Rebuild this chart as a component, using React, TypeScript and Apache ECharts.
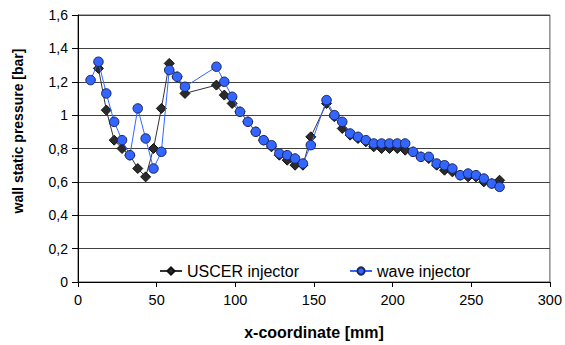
import React, { useEffect, useRef } from "react";
import * as echarts from "echarts";

const uscerX = [13, 18, 23, 28, 33, 38, 43, 48, 53, 58, 63, 68, 88, 93, 98, 103, 108, 113, 118, 123, 128, 133, 138, 143, 148, 158, 163, 168, 173, 178, 183, 188, 193, 198, 203, 208, 213, 218, 223, 228, 233, 238, 243, 248, 253, 258, 263, 268];
const uscerP = [1.28, 1.03, 0.85, 0.8, 0.76, 0.68, 0.63, 0.8, 1.04, 1.31, 1.23, 1.13, 1.18, 1.12, 1.07, 1.02, 0.96, 0.9, 0.85, 0.81, 0.76, 0.73, 0.7, 0.7, 0.87, 1.07, 0.99, 0.92, 0.88, 0.86, 0.84, 0.81, 0.8, 0.8, 0.8, 0.79, 0.78, 0.75, 0.74, 0.7, 0.67, 0.66, 0.64, 0.63, 0.63, 0.6, 0.59, 0.61];

const waveX = [8, 13, 18, 23, 28, 33, 38, 43, 48, 53, 58, 63, 68, 88, 93, 98, 103, 108, 113, 118, 123, 128, 133, 138, 143, 148, 158, 163, 168, 173, 178, 183, 188, 193, 198, 203, 208, 213, 218, 223, 228, 233, 238, 243, 248, 253, 258, 263, 268];
const waveP = [1.21, 1.32, 1.13, 0.96, 0.85, 0.76, 1.04, 0.86, 0.68, 0.78, 1.27, 1.23, 1.17, 1.29, 1.2, 1.11, 1.02, 0.96, 0.9, 0.85, 0.82, 0.77, 0.76, 0.74, 0.71, 0.82, 1.09, 1.0, 0.96, 0.89, 0.87, 0.85, 0.83, 0.83, 0.83, 0.83, 0.83, 0.78, 0.75, 0.75, 0.71, 0.7, 0.68, 0.64, 0.65, 0.64, 0.62, 0.59, 0.57];

const seriesNames = ["USCER injector", "wave injector"];
const xAxisTitle = "x-coordinate [mm]";
const yAxisTitle = "wall static pressure [bar]";

const FONT = "'Liberation Sans', Arial, sans-serif";

export default function App() {
  const ref = useRef<HTMLDivElement>(null);
  useEffect(() => {
    if (!ref.current) return;
    const chart = echarts.init(ref.current, undefined, { renderer: "svg" });
    chart.setOption({
      animation: false,
      backgroundColor: "#ffffff",
      textStyle: { fontFamily: FONT },
      grid: { left: 78, right: 13, top: 15, bottom: 60, show: true, borderColor: "#555555", borderWidth: 1, backgroundColor: "transparent" },
      legend: {
        left: 154,
        top: 258,
        itemWidth: 22,
        itemHeight: 9,
        itemGap: 50,
        textStyle: { fontFamily: FONT, fontSize: 16, color: "#000" },
        data: seriesNames,
      },
      xAxis: {
        type: "value",
        min: 0,
        max: 300,
        interval: 50,
        name: xAxisTitle,
        nameLocation: "middle",
        nameGap: 42,
        nameTextStyle: { fontFamily: FONT, fontSize: 16, fontWeight: "bold", color: "#000" },
        axisLine: { lineStyle: { color: "#000", width: 1 } },
        axisTick: { show: true, inside: false, length: 5, lineStyle: { color: "#000" } },
        axisLabel: { fontFamily: FONT, fontSize: 14.5, color: "#000", margin: 10 },
        splitLine: { show: false },
      },
      yAxis: {
        type: "value",
        min: 0,
        max: 1.6,
        interval: 0.2,
        axisLine: { show: true, lineStyle: { color: "#000", width: 1 } },
        axisTick: { show: true, inside: false, length: 6, lineStyle: { color: "#000" } },
        axisLabel: {
          fontFamily: FONT,
          fontSize: 14,
          color: "#000",
          margin: 10,
          formatter: (v: number) => String(Math.round(v * 10) / 10).replace(".", ","),
        },
        splitLine: { show: true, lineStyle: { color: "#404040", width: 1 } },
      },
      graphic: [
        {
          type: "text",
          x: 18,
          y: 131,
          rotation: Math.PI / 2,
          style: {
            text: yAxisTitle,
            font: `bold 14px ${FONT}`,
            fill: "#000",
            align: "center",
            verticalAlign: "middle",
          },
        },
      ],
      series: [
        {
          name: seriesNames[0],
          type: "line",
          data: uscerX.map((x, i) => [x, uscerP[i]]),
          symbol: "diamond",
          symbolSize: 10,
          showAllSymbol: true,
          lineStyle: { color: "#333333", width: 1 },
          itemStyle: { color: "#2b2b2b", borderColor: "#111111", borderWidth: 1 },
          z: 2,
        },
        {
          name: seriesNames[1],
          type: "line",
          data: waveX.map((x, i) => [x, waveP[i]]),
          symbol: "circle",
          symbolSize: 9.5,
          showAllSymbol: true,
          lineStyle: { color: "#3366ff", width: 1 },
          itemStyle: { color: "#3366ff", borderColor: "#1a2460", borderWidth: 1 },
          z: 3,
        },
      ],
    });
    return () => chart.dispose();
  }, []);
  return <div ref={ref} style={{ position: "fixed", left: 0, top: 0, width: 565, height: 345 }} />;
}
